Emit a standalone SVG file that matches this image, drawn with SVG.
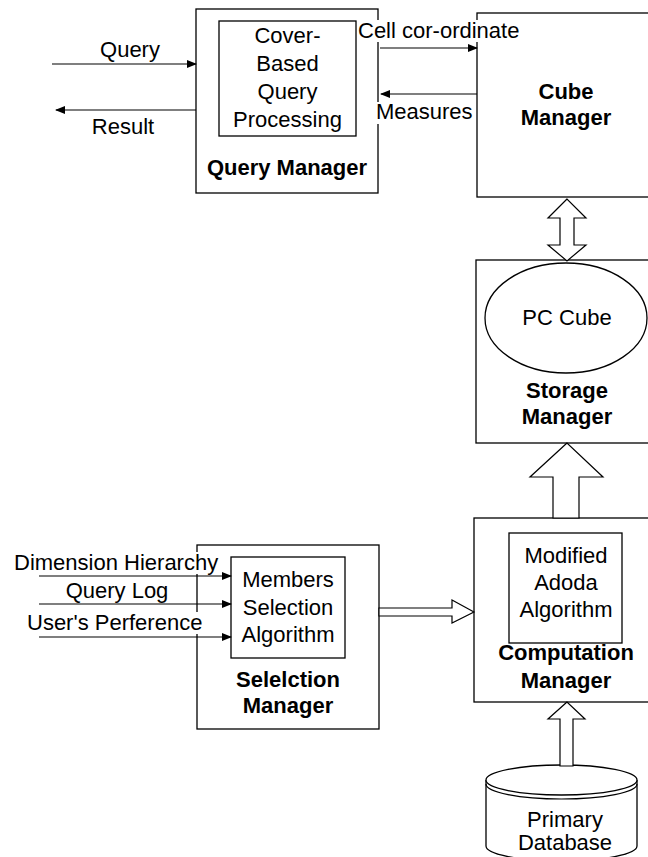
<svg xmlns="http://www.w3.org/2000/svg" width="648" height="857" viewBox="0 0 648 857">
<style>
.box{fill:#fff;stroke:#000;stroke-width:1.3}
.ln{fill:none;stroke:#000;stroke-width:1.2}
.hollow{fill:#fff;stroke:#000;stroke-width:1.2;stroke-linejoin:miter}
.t{font-family:"Liberation Sans",Arial,sans-serif;font-size:22px;fill:#000}
.c{text-anchor:middle}
.b{font-weight:bold}
.bg{fill:#fff}
</style>
<defs>
<marker id="ah" markerWidth="10" markerHeight="8" refX="9" refY="4" orient="auto" markerUnits="userSpaceOnUse">
<path d="M0,0 L10,4 L0,8 Z" fill="#000"/>
</marker>
</defs>
<rect width="648" height="857" fill="#fff"/>

<g id="query-manager">
<rect class="box" x="196" y="9" width="182" height="184"/>
<rect class="box" x="219" y="21" width="137" height="115"/>
<text class="t c" x="287.5" y="43">Cover-</text>
<text class="t c" x="287.5" y="71">Based</text>
<text class="t c" x="287.5" y="99">Query</text>
<text class="t c" x="287.5" y="127">Processing</text>
<text class="t c b" x="287" y="175">Query Manager</text>
</g>

<g id="cube-manager">
<rect class="box" x="477" y="13" width="183" height="184"/>
<text class="t c b" x="566" y="99">Cube</text>
<text class="t c b" x="566" y="125">Manager</text>
</g>

<g id="storage-manager">
<rect class="box" x="476" y="260" width="184" height="183"/>
<ellipse class="box" cx="566" cy="318" rx="81" ry="55"/>
<text class="t c" x="567" y="325">PC Cube</text>
<text class="t c b" x="567" y="398">Storage</text>
<text class="t c b" x="567" y="424">Manager</text>
</g>

<g id="computation-manager">
<rect class="box" x="474" y="518" width="186" height="184"/>
<rect class="box" x="509" y="533" width="113" height="110"/>
<text class="t c" x="566" y="563">Modified</text>
<text class="t c" x="566" y="590">Adoda</text>
<text class="t c" x="566" y="617">Algorithm</text>
<text class="t c b" x="566" y="660">Computation</text>
<text class="t c b" x="566" y="688">Manager</text>
</g>

<g id="selection-manager">
<rect class="box" x="197" y="545" width="182" height="184"/>
<rect class="box" x="231" y="557" width="114" height="101"/>
<text class="t c" x="288" y="587">Members</text>
<text class="t c" x="288" y="615">Selection</text>
<text class="t c" x="288" y="642">Algorithm</text>
<text class="t c b" x="288" y="687">Selelction</text>
<text class="t c b" x="288" y="713">Manager</text>
</g>

<g id="primary-database">
<path class="box" d="M486,780 L486,846 A75.5,15 0 0 0 637,846 L637,780"/>
<ellipse class="box" cx="561.5" cy="780" rx="75.5" ry="15"/>
<path class="ln" d="M486,784 A75.5,15 0 0 0 637,784"/>
<text class="t c" x="565" y="827">Primary</text>
<text class="t c" x="565" y="850">Database</text>
</g>

<g id="connectors">
<line class="ln" x1="52" y1="64" x2="196" y2="64" marker-end="url(#ah)"/>
<text class="t c" x="130" y="57">Query</text>
<line class="ln" x1="196" y1="110" x2="56" y2="110" marker-end="url(#ah)"/>
<text class="t c" x="123" y="134">Result</text>

<rect class="bg" x="357" y="20" width="164" height="22"/>
<text class="t" x="358" y="38">Cell cor-ordinate</text>
<line class="ln" x1="380" y1="48" x2="477" y2="48" marker-end="url(#ah)"/>
<line class="ln" x1="477" y1="94" x2="381" y2="94" marker-end="url(#ah)"/>
<rect class="bg" x="375" y="102" width="99" height="22"/>
<text class="t" x="376" y="119">Measures</text>

<polygon class="hollow" points="567,199 548,218 560,218 560,245 548,245 567,261 586,245 574,245 574,218 586,218"/>
<polygon class="hollow" points="567,443 530,477 553,477 553,518 579,518 579,477 603,477"/>
<polygon class="hollow" points="474,612 452,600 452,608 379,608 379,616 452,616 452,623"/>
<polygon class="hollow" points="567,702 548,719 560,719 560,766 573,766 573,719 585,719"/>

<rect class="bg" x="12" y="552" width="208" height="22"/>
<text class="t" x="14" y="570">Dimension Hierarchy</text>
<line class="ln" x1="39" y1="576" x2="231" y2="576" marker-end="url(#ah)"/>
<text class="t c" x="117" y="598">Query Log</text>
<line class="ln" x1="39" y1="604" x2="231" y2="604" marker-end="url(#ah)"/>
<rect class="bg" x="25" y="612" width="183" height="22"/>
<text class="t" x="27" y="630">User's Perference</text>
<line class="ln" x1="39" y1="637" x2="231" y2="637" marker-end="url(#ah)"/>
</g>
</svg>
